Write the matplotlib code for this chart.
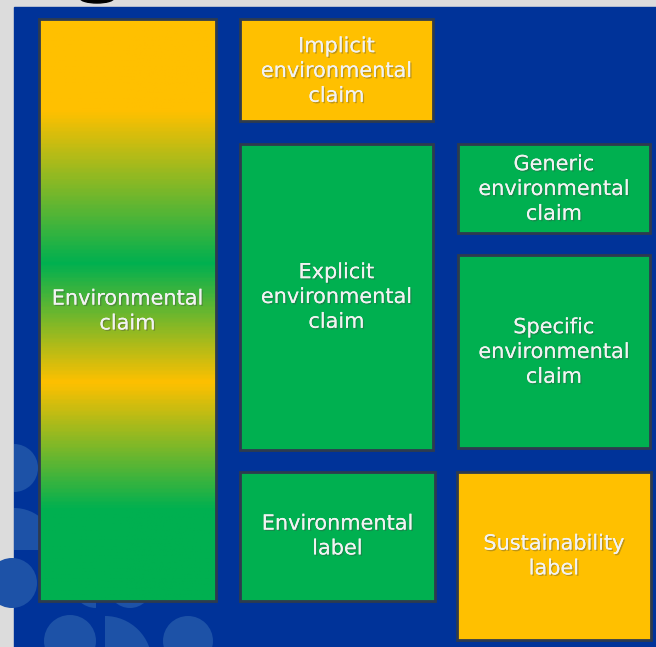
import numpy as np
import matplotlib.pyplot as plt
from matplotlib.colors import LinearSegmentedColormap
from matplotlib.patches import Rectangle, Circle, Wedge, Ellipse
import matplotlib.patheffects as pe

# box labels and fill colours
labels = ['Environmental\nclaim', 'Implicit\nenvironmental\nclaim',
          'Explicit\nenvironmental\nclaim', 'Generic\nenvironmental\nclaim',
          'Specific\nenvironmental\nclaim', 'Environmental\nlabel',
          'Sustainability\nlabel']
fills = ['gradient', '#FFC000', '#00B050', '#00B050', '#00B050', '#00B050', '#FFC000']
# (x0, y0, x1, y1) in pixels, y downwards
boxes = [(39, 19, 216, 601), (240, 19, 433, 121), (240, 144, 433, 450),
         (458, 144, 650, 233), (458, 255, 650, 448), (240, 472, 435, 601),
         (457, 472, 651, 640)]
# text anchor y (centre of text block)
text_y = [311, 71, 297, 189, 352, 536, 556]

# gradient stops of the big box: (pixel y, colour)
grad_y = [19, 110, 263, 383, 510, 601]
grad_c = ['#FFC000', '#FFC000', '#00B050', '#FFC000', '#00B050', '#00B050']

BLUE = '#003399'
EDGE = '#2E3B4E'

fig = plt.figure(figsize=(6.56, 6.47), dpi=100)
fig.patch.set_facecolor('#DCDCDC')
ax = fig.add_axes([0, 0, 1, 1])
ax.set_xlim(0, 656)
ax.set_ylim(647, 0)
ax.axis('off')

ax.add_patch(Rectangle((14, 7), 650, 650, color=BLUE, zorder=0))
ax.add_patch(Ellipse((97, -2), 34, 10, color='black', zorder=0))

# faint decorative shapes, bottom left (angles in data coords, y points down)
deco = '#1D52A7'
shapes = [Wedge((14, 468), 24, -90, 90), Wedge((14, 550), 42, 270, 360),
          Circle((12, 583), 25), Circle((70, 641), 26),
          Wedge((105, 663), 47, 270, 360), Circle((188, 641), 25),
          Wedge((96, 584), 24, 90, 180), Circle((130, 586), 22)]
for s in shapes:
    s.set_facecolor(deco)
    s.set_edgecolor('none')
    s.set_zorder(1)
    s.set_clip_path(Rectangle((14, 7), 650, 650, transform=ax.transData))
    ax.add_patch(s)

def shadow_text(x, y, s):
    ax.text(x, y, s, ha='center', va='center', fontsize=15, color='#F2F2F2',
            family='DejaVu Sans', linespacing=1.3, zorder=5,
            path_effects=[pe.withSimplePatchShadow(offset=(1, -1), shadow_rgbFace='#444444', alpha=0.35),
                          pe.Normal()])

for (x0, y0, x1, y1), fill, lab, ty in zip(boxes, fills, labels, text_y):
    if fill == 'gradient':
        span = y1 - y0
        stops = [((g - y0) / span, c) for g, c in zip(grad_y, grad_c)]
        cmap = LinearSegmentedColormap.from_list('claim', stops)
        grad = np.linspace(0, 1, 400).reshape(-1, 1)
        ax.imshow(grad, cmap=cmap, aspect='auto', extent=(x0, x1, y1, y0), zorder=2)
        ax.add_patch(Rectangle((x0, y0), x1 - x0, y1 - y0, facecolor='none',
                               edgecolor=EDGE, linewidth=2, zorder=3))
    else:
        ax.add_patch(Rectangle((x0, y0), x1 - x0, y1 - y0, facecolor=fill,
                               edgecolor=EDGE, linewidth=2, zorder=3))
    shadow_text((x0 + x1) / 2, ty, lab)

fig.savefig('out.png', dpi=100, facecolor=fig.get_facecolor())
